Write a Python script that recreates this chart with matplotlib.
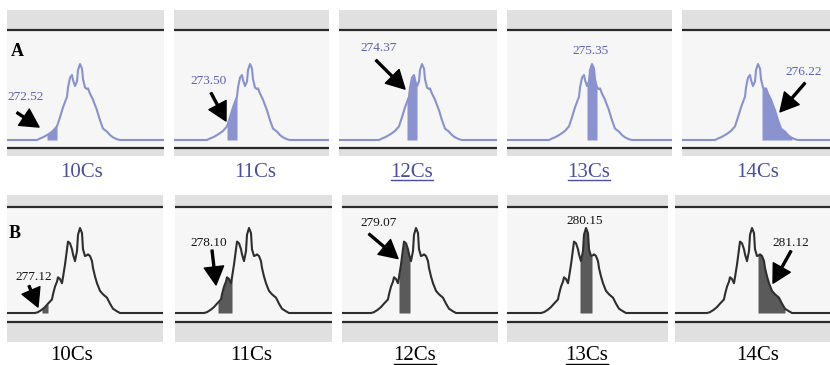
import matplotlib
matplotlib.use("Agg")
import matplotlib.pyplot as plt
import numpy as np
from matplotlib.lines import Line2D

plt.rcParams['font.family'] = ['Liberation Serif', 'DejaVu Serif']

# peak profiles (x: pixels from the apex, y: height relative to apex)
peak_x_a = [-43, -40, -37, -33, -30, -27, -23, -20, -17, -13, -12, -10, -8, -7, -5, -3, -2,
            0, 2, 3, 5, 7, 8, 10, 13, 17, 20, 23, 27, 30, 33, 37, 40]
peak_a = [0, 0.02, 0.035, 0.065, 0.09, 0.12, 0.18, 0.30, 0.43, 0.57, 0.69, 0.82, 0.855, 0.79,
          0.71, 0.77, 0.92, 1.0, 0.94, 0.80, 0.69, 0.67, 0.68, 0.61, 0.53, 0.39, 0.26, 0.15,
          0.11, 0.065, 0.035, 0.01, 0]

peak_x_b = [-45, -42, -38, -35, -32, -28, -27, -25, -23, -22, -20, -18, -17, -15, -13, -12, -10,
            -8, -7, -5, -3, -2, 0, 2, 3, 5, 7, 8, 10, 12, 13, 15, 17, 20, 23, 27, 30, 33, 37, 40]
peak_b = [0, 0.01, 0.04, 0.07, 0.11, 0.16, 0.22, 0.31, 0.37, 0.42, 0.40, 0.35, 0.42, 0.57, 0.75,
          0.84, 0.82, 0.75, 0.69, 0.61, 0.73, 0.92, 1.0, 0.94, 0.75, 0.67, 0.68, 0.69, 0.67,
          0.61, 0.53, 0.43, 0.35, 0.26, 0.22, 0.18, 0.11, 0.05, 0.02, 0]

labels = ['10Cs', '11Cs', '12Cs', '13Cs', '14Cs']
underlined = [False, False, True, True, False]
mass_a = ['272.52', '273.50', '274.37', '275.35', '276.22']
mass_b = ['277.12', '278.10', '279.07', '280.15', '281.12']

# shaded slice of the peak in each panel
slices_a = [(-33, -23), (-23, -13), (-15, -5), (-5, 5), (4, 34)]
slices_b = [(-38, -32), (-31, -17), (-17, -6), (-6, 6), (6, 33)]

# annotation text positions and arrows (tail, tip)
text_a = [(-54, 0.57), (-41, 0.78), (-43, 1.21), (-2, 1.17), (46, 0.89)]
arrow_a = [((-63, 0.36), (-41, 0.17)), ((-39, 0.62), (-24, 0.25)),
           ((-46, 1.05), (-17, 0.67)), None, ((47, 0.75), (22, 0.37))]
text_b = [(-46, 0.42), (-40, 0.82), (-37, 1.06), (-1, 1.08), (39, 0.82)]
arrow_b = [((-51, 0.32), (-42, 0.07)), ((-37, 0.74), (-33, 0.33)),
           ((-47, 0.93), (-18, 0.64)), None, ((39, 0.73), (21, 0.35))]

W, H = 830, 365
fig = plt.figure(figsize=(W / 100, H / 100), dpi=100)

rows = [
    dict(name='A', lefts=[7, 174, 339, 507, 682], rights=[164, 329, 497, 672, 830],
         apex=[80, 250, 422, 592, 758], band_top=10, top_line=30, base=140, bot_line=148,
         band_bot=156, peak_h=76, px=peak_x_a, py=peak_a, slices=slices_a, masses=mass_a,
         texts=text_a, arrows=arrow_a, line='#8892d0', fill='#8a92cf', tcol='#5a5fb4',
         lcol='#4a4e9e', lab_x=[82, 255, 412, 589, 758], lab_y=172, letter=(17, 51)),
    dict(name='B', lefts=[7, 175, 342, 507, 675], rights=[163, 332, 498, 668, 830],
         apex=[80, 249, 416, 586, 752], band_top=195, top_line=207, base=313, bot_line=322,
         band_bot=342, peak_h=85, px=peak_x_b, py=peak_b, slices=slices_b, masses=mass_b,
         texts=text_b, arrows=arrow_b, line='#2e2e2e', fill='#5a5a5a', tcol='#111111',
         lcol='black', lab_x=[72, 251, 415, 587, 758], lab_y=356, letter=(15, 233)),
]

band_col = '#e0e0e0'
inner_col = '#f6f6f6'
label_texts = []

for r in rows:
    for i in range(5):
        x0, x1 = r['lefts'][i], r['rights'][i]
        ax = fig.add_axes([x0 / W, 1 - r['band_bot'] / H, (x1 - x0) / W,
                           (r['band_bot'] - r['band_top']) / H])
        xa, xb = x0 - r['apex'][i], x1 - r['apex'][i]
        y0 = (r['base'] - r['band_bot']) / r['peak_h']
        y1 = (r['base'] - r['band_top']) / r['peak_h']
        ytl = (r['base'] - r['top_line']) / r['peak_h']
        ybl = (r['base'] - r['bot_line']) / r['peak_h']
        ax.set_xlim(xa, xb)
        ax.set_ylim(y0, y1)
        ax.set_facecolor(inner_col)
        ax.axhspan(y0, ybl, color=band_col, lw=0)
        ax.axhspan(ytl, y1, color=band_col, lw=0)
        ax.axhline(ytl, color='#2a2a2a', lw=1.6)
        ax.axhline(ybl, color='#2a2a2a', lw=1.6)
        for s in ax.spines.values():
            s.set_visible(False)
        ax.set_xticks([])
        ax.set_yticks([])

        px = np.array(r['px'], dtype=float)
        py = np.array(r['py'], dtype=float)
        lo, hi = r['slices'][i]
        xs = np.linspace(lo, hi, 40)
        ax.fill_between(xs, 0, np.interp(xs, px, py), color=r['fill'], lw=0, zorder=2)
        ax.plot(np.concatenate([[xa + 1], px, [xb - 1]]), np.concatenate([[0], py, [0]]),
                color=r['line'], lw=1.5, zorder=3)

        tx, ty = r['texts'][i]
        ax.text(tx, ty, r['masses'][i], ha='center', va='center', fontsize=9.5,
                color=r['tcol'], zorder=5, clip_on=False)
        if r['arrows'][i] is not None:
            tail, tip = r['arrows'][i]
            ax.annotate('', xy=tip, xytext=tail, annotation_clip=False, zorder=6,
                        arrowprops=dict(facecolor='black', edgecolor='black', width=1.4,
                                        headwidth=14, headlength=13, shrink=0))

        t = fig.text(r['lab_x'][i] / W, 1 - r['lab_y'] / H, labels[i], ha='center',
                     va='center', fontsize=15, color=r['lcol'])
        label_texts.append((t, underlined[i], r['lcol']))

    fig.text(r['letter'][0] / W, 1 - r['letter'][1] / H, r['name'], ha='center', va='center',
             fontsize=13, fontweight='bold', color='black')

fig.canvas.draw()
rend = fig.canvas.get_renderer()
for t, ul, col in label_texts:
    if ul:
        bb = t.get_window_extent(rend)
        yl = (bb.y0 + 2) / H
        fig.lines.append(Line2D([bb.x0 / W, bb.x1 / W], [yl, yl], transform=fig.transFigure,
                                color=col, lw=1.0))

fig.savefig('out.png', dpi=100)
